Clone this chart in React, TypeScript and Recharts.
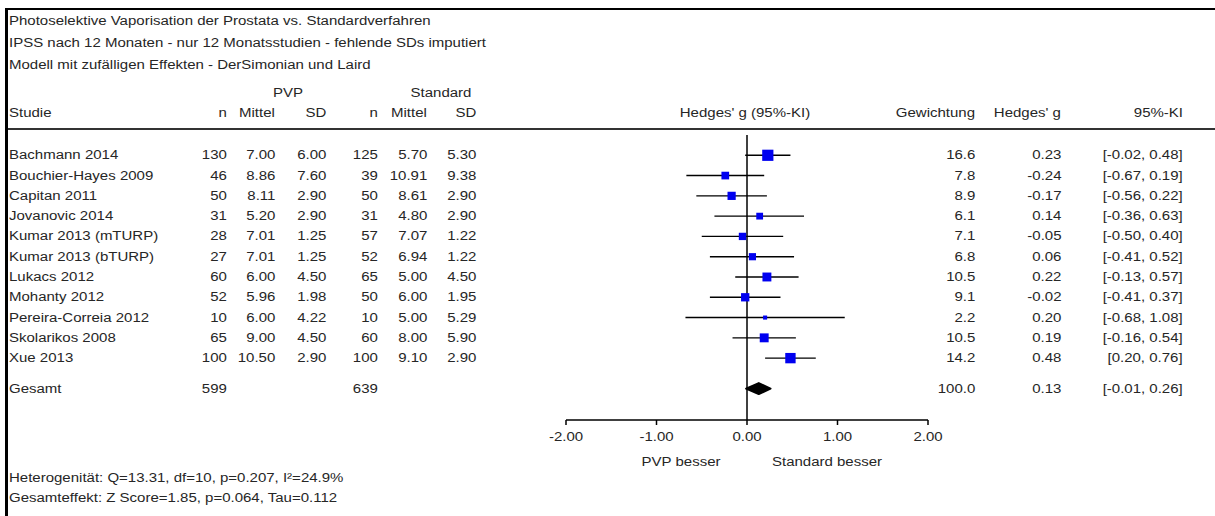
import React from 'react';
import { ComposedChart, Scatter, ErrorBar, XAxis, YAxis, ReferenceLine } from 'recharts';

// Studien-Daten
const studies = [
  'Bachmann 2014', 'Bouchier-Hayes 2009', 'Capitan 2011', 'Jovanovic 2014',
  'Kumar 2013 (mTURP)', 'Kumar 2013 (bTURP)', 'Lukacs 2012', 'Mohanty 2012',
  'Pereira-Correia 2012', 'Skolarikos 2008', 'Xue 2013',
];
const nPvp = [130, 46, 50, 31, 28, 27, 60, 52, 10, 65, 100];
const meanPvp = [7.0, 8.86, 8.11, 5.2, 7.01, 7.01, 6.0, 5.96, 6.0, 9.0, 10.5];
const sdPvp = [6.0, 7.6, 2.9, 2.9, 1.25, 1.25, 4.5, 1.98, 4.22, 4.5, 2.9];
const nStd = [125, 39, 50, 31, 57, 52, 65, 50, 10, 60, 100];
const meanStd = [5.7, 10.91, 8.61, 4.8, 7.07, 6.94, 5.0, 6.0, 5.0, 8.0, 9.1];
const sdStd = [5.3, 9.38, 2.9, 2.9, 1.22, 1.22, 4.5, 1.95, 5.29, 5.9, 2.9];
const weights = [16.6, 7.8, 8.9, 6.1, 7.1, 6.8, 10.5, 9.1, 2.2, 10.5, 14.2];
const hedgesG = [0.23, -0.24, -0.17, 0.14, -0.05, 0.06, 0.22, -0.02, 0.2, 0.19, 0.48];
const ciLow = [-0.02, -0.67, -0.56, -0.36, -0.5, -0.41, -0.13, -0.41, -0.68, -0.16, 0.2];
const ciHigh = [0.48, 0.19, 0.22, 0.63, 0.4, 0.52, 0.57, 0.37, 1.08, 0.54, 0.76];

// Gesamt
const totalNPvp = 599;
const totalNStd = 639;
const totalWeight = 100.0;
const totalG = 0.13;
const totalLow = -0.01;
const totalHigh = 0.26;

const xTicks = [-2, -1, 0, 1, 2];

const titleLines = [
  'Photoselektive Vaporisation der Prostata vs. Standardverfahren',
  'IPSS nach 12 Monaten - nur 12 Monatsstudien - fehlende SDs imputiert',
  'Modell mit zufälligen Effekten - DerSimonian und Laird',
];
const footerLines = [
  'Heterogenität: Q=13.31, df=10, p=0.207, I²=24.9%',
  'Gesamteffekt: Z Score=1.85, p=0.064, Tau=0.112',
];

const W = 1215;
const H = 516;
const PLOT_TOP = 135;
const PLOT_BOTTOM = 420;
const Y_MIN = -1;
const Y_MAX = 13.05;
const X_AXIS_H = 30;
const TOTAL_ROW = 11.5;

const FONT = '"Liberation Sans", Arial, sans-serif';
const FONT_SIZE = 12.5;
const STRETCH = 1.2; // Text im Original horizontal breiter
const TEXT = '#262626';

const rowY = (v: number) =>
  PLOT_TOP + ((v - Y_MIN) * (PLOT_BOTTOM - PLOT_TOP)) / (Y_MAX - Y_MIN);

const studyPoints = studies.map((s, i) => ({
  name: s,
  x: hedgesG[i],
  y: i,
  w: weights[i],
  err: [hedgesG[i] - ciLow[i], ciHigh[i] - hedgesG[i]],
}));

const diamond = [
  { x: totalLow, y: TOTAL_ROW },
  { x: totalG, y: TOTAL_ROW - 0.27 },
  { x: totalHigh, y: TOTAL_ROW },
  { x: totalG, y: TOTAL_ROW + 0.27 },
];

const fmt = (v: number) => v.toFixed(2);
const ci = (lo: number, hi: number) => `[${fmt(lo)}, ${fmt(hi)}]`;

const Square = (props: any) => {
  const { cx, cy, payload } = props;
  const s = 2.75 * Math.sqrt(payload.w);
  return <rect x={cx - s / 2} y={cy - s / 2} width={s} height={s} fill="#0000f0" />;
};

const DiamondShape = (props: any) => {
  const pts = props.points || [];
  return (
    <polygon
      points={pts.map((p: any) => `${p.x},${p.y}`).join(' ')}
      fill="#000"
      stroke="#000"
      strokeWidth={2}
      strokeLinejoin="round"
    />
  );
};

const AxisTick = (props: any) => {
  const { x, y, payload } = props;
  return (
    <text
      transform={`translate(${x},${y + 16}) scale(${STRETCH},1)`}
      textAnchor="middle"
      fill={TEXT}
      fontSize={FONT_SIZE}
      fontFamily={FONT}
    >
      {fmt(payload.value)}
    </text>
  );
};

type TProps = { x: number; y: number; align?: 'left' | 'right' | 'center'; children: React.ReactNode };
const T = ({ x, y, align = 'left', children }: TProps) => {
  const style: React.CSSProperties = {
    position: 'absolute',
    top: y - 7,
    lineHeight: '14px',
    whiteSpace: 'nowrap',
  };
  if (align === 'left') {
    style.left = x;
    style.transform = `scaleX(${STRETCH})`;
    style.transformOrigin = 'left center';
  }
  if (align === 'right') {
    style.right = W - x;
    style.transform = `scaleX(${STRETCH})`;
    style.transformOrigin = 'right center';
  }
  if (align === 'center') {
    style.left = x;
    style.transform = `translateX(-50%) scaleX(${STRETCH})`;
    style.transformOrigin = 'center center';
  }
  return <div style={style}>{children}</div>;
};

// rechte Kanten der Zahlenspalten
const COLS = { n1: 227, m1: 275, s1: 326, n2: 378, m2: 427, s2: 476, w: 975, g: 1061, ci: 1183 };

export default function App() {
  return (
    <div
      style={{
        position: 'absolute',
        left: 0,
        top: 0,
        width: W,
        height: H,
        background: '#fff',
        fontFamily: FONT,
        fontSize: FONT_SIZE,
        color: TEXT,
        overflow: 'hidden',
      }}
    >
      <div style={{ position: 'absolute', left: 6, top: 8, width: W - 6, height: 2, background: '#000' }} />
      <div style={{ position: 'absolute', left: 5, top: 8, width: 3, height: H - 8, background: '#000' }} />
      <div style={{ position: 'absolute', left: 8, top: 128, width: W - 8, height: 2, background: '#333' }} />

      <div style={{ position: 'absolute', left: 0, top: 0 }}>
        <ComposedChart
          width={W}
          height={H}
          margin={{ top: PLOT_TOP, right: W - 928, bottom: H - PLOT_BOTTOM - X_AXIS_H, left: 566 }}
        >
          <XAxis
            type="number"
            dataKey="x"
            domain={[-2, 2]}
            ticks={xTicks}
            height={X_AXIS_H}
            axisLine={{ stroke: '#000', strokeWidth: 1.5 }}
            tickLine={{ stroke: '#000', strokeWidth: 1.5 }}
            tickSize={5}
            tickMargin={0}
            tick={AxisTick}
            allowDataOverflow
          />
          <YAxis type="number" dataKey="y" domain={[Y_MIN, Y_MAX]} reversed hide allowDataOverflow />
          <ReferenceLine x={0} stroke="#000" strokeWidth={1.5} />
          <Scatter data={studyPoints} shape={Square} isAnimationActive={false}>
            <ErrorBar dataKey="err" direction="x" width={0} stroke="#000" strokeWidth={1.4} />
          </Scatter>
          <Scatter
            data={diamond}
            shape={() => <g />}
            line={DiamondShape}
            isAnimationActive={false}
          />
        </ComposedChart>
      </div>

      {titleLines.map((t, i) => (
        <T key={t} x={9} y={21 + i * 22}>{t}</T>
      ))}

      <T x={288} y={93} align="center">PVP</T>
      <T x={441} y={93} align="center">Standard</T>
      <T x={9} y={113}>Studie</T>
      <T x={COLS.n1} y={113} align="right">n</T>
      <T x={COLS.m1} y={113} align="right">Mittel</T>
      <T x={COLS.s1} y={113} align="right">SD</T>
      <T x={COLS.n2} y={113} align="right">n</T>
      <T x={COLS.m2} y={113} align="right">Mittel</T>
      <T x={COLS.s2} y={113} align="right">SD</T>
      <T x={745} y={113} align="center">Hedges' g (95%-KI)</T>
      <T x={COLS.w} y={113} align="right">Gewichtung</T>
      <T x={COLS.g} y={113} align="right">Hedges' g</T>
      <T x={COLS.ci} y={113} align="right">95%-KI</T>

      {studies.map((s, i) => {
        const y = rowY(i);
        return (
          <React.Fragment key={s}>
            <T x={9} y={y}>{s}</T>
            <T x={COLS.n1} y={y} align="right">{nPvp[i]}</T>
            <T x={COLS.m1} y={y} align="right">{fmt(meanPvp[i])}</T>
            <T x={COLS.s1} y={y} align="right">{fmt(sdPvp[i])}</T>
            <T x={COLS.n2} y={y} align="right">{nStd[i]}</T>
            <T x={COLS.m2} y={y} align="right">{fmt(meanStd[i])}</T>
            <T x={COLS.s2} y={y} align="right">{fmt(sdStd[i])}</T>
            <T x={COLS.w} y={y} align="right">{weights[i].toFixed(1)}</T>
            <T x={COLS.g} y={y} align="right">{fmt(hedgesG[i])}</T>
            <T x={COLS.ci} y={y} align="right">{ci(ciLow[i], ciHigh[i])}</T>
          </React.Fragment>
        );
      })}

      <T x={9} y={rowY(TOTAL_ROW)}>Gesamt</T>
      <T x={COLS.n1} y={rowY(TOTAL_ROW)} align="right">{totalNPvp}</T>
      <T x={COLS.n2} y={rowY(TOTAL_ROW)} align="right">{totalNStd}</T>
      <T x={COLS.w} y={rowY(TOTAL_ROW)} align="right">{totalWeight.toFixed(1)}</T>
      <T x={COLS.g} y={rowY(TOTAL_ROW)} align="right">{fmt(totalG)}</T>
      <T x={COLS.ci} y={rowY(TOTAL_ROW)} align="right">{ci(totalLow, totalHigh)}</T>

      <T x={681} y={462} align="center">PVP besser</T>
      <T x={827} y={462} align="center">Standard besser</T>

      {footerLines.map((t, i) => (
        <T key={t} x={9} y={478 + i * 20}>{t}</T>
      ))}
    </div>
  );
}
